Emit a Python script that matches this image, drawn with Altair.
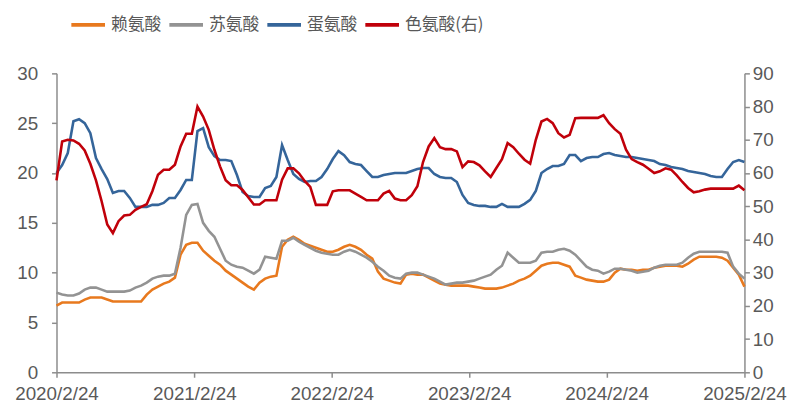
import altair as alt
import pandas as pd

# x: semi-monthly observation dates, 2020/2/24 .. 2025/2/24
dates = pd.date_range("2020-02-24", "2025-02-24", periods=123)

series_names = ["赖氨酸", "苏氨酸", "蛋氨酸", "色氨酸(右)"]
series_colors = ["#E8791E", "#939393", "#35659A", "#C0000A"]

# 赖氨酸 (left axis)
lysine = [
    6.7, 7.0, 7.0, 7.0, 7.0, 7.3, 7.5, 7.5, 7.5, 7.3,
    7.1, 7.1, 7.1, 7.1, 7.1, 7.1, 7.8, 8.3, 8.6, 8.9,
    9.1, 9.5, 11.8, 12.8, 13.0, 13.0, 12.2, 11.7, 11.2, 10.8,
    10.2, 9.8, 9.4, 9.0, 8.6, 8.3, 9.0, 9.4, 9.6, 9.7,
    12.6, 13.3, 13.6, 13.3, 12.9, 12.7, 12.5, 12.3, 12.1, 12.1,
    12.3, 12.6, 12.8, 12.6, 12.3, 11.8, 11.4, 10.1, 9.4, 9.2,
    9.0, 8.9, 9.8, 9.9, 9.8, 9.8, 9.5, 9.2, 8.9, 8.8,
    8.7, 8.7, 8.7, 8.7, 8.6, 8.5, 8.4, 8.4, 8.4, 8.5,
    8.7, 8.9, 9.2, 9.4, 9.7, 10.2, 10.7, 10.9, 11.0, 11.0,
    10.8, 10.6, 9.7, 9.5, 9.3, 9.2, 9.1, 9.1, 9.3, 10.0,
    10.4, 10.3, 10.3, 10.2, 10.3, 10.3, 10.5, 10.6, 10.7, 10.7,
    10.7, 10.6, 10.9, 11.3, 11.6, 11.6, 11.6, 11.6, 11.5, 11.2,
    10.5, 9.8, 8.6,
]

# 苏氨酸 (left axis)
threonine = [
    8.0, 7.8, 7.7, 7.7, 7.9, 8.3, 8.5, 8.5, 8.3, 8.1,
    8.1, 8.1, 8.1, 8.2, 8.5, 8.7, 9.0, 9.4, 9.6, 9.7,
    9.7, 9.9, 12.5, 15.8, 16.8, 16.9, 15.0, 14.2, 13.6, 12.4,
    11.2, 10.8, 10.6, 10.5, 10.2, 9.9, 10.3, 11.6, 11.5, 11.4,
    13.2, 13.2, 13.5, 13.1, 12.8, 12.5, 12.2, 12.0, 11.9, 11.8,
    11.8, 12.1, 12.3, 12.1, 11.8, 11.5, 11.1, 10.6, 10.2, 9.7,
    9.5, 9.4, 9.9, 10.0, 10.0, 9.8, 9.6, 9.4, 9.1, 8.8,
    8.9, 9.0, 9.0, 9.1, 9.2, 9.4, 9.6, 9.8, 10.3, 10.7,
    12.0, 11.5, 11.0, 11.0, 11.0, 11.2, 12.0, 12.1, 12.1, 12.3,
    12.4, 12.2, 11.8, 11.2, 10.6, 10.3, 10.2, 9.9, 10.1, 10.4,
    10.4, 10.3, 10.2, 10.0, 10.1, 10.2, 10.5, 10.7, 10.8, 10.8,
    10.8, 11.0, 11.5, 11.9, 12.1, 12.1, 12.1, 12.1, 12.1, 12.0,
    10.6, 9.9, 9.4,
]

# 蛋氨酸 (left axis)
methionine = [
    20.0, 20.8, 22.0, 25.2, 25.4, 25.0, 24.0, 21.5, 20.4, 19.4,
    18.0, 18.2, 18.2, 17.5, 16.6, 16.6, 16.6, 16.8, 16.8, 17.0,
    17.5, 17.5, 18.3, 19.3, 19.3, 24.2, 24.5, 22.6, 21.7, 21.3,
    21.3, 21.2, 19.8, 18.1, 17.7, 17.6, 17.6, 18.5, 18.7, 19.6,
    22.8, 21.3, 19.9, 19.4, 19.1, 19.2, 19.2, 19.6, 20.4, 21.4,
    22.2, 21.8, 21.1, 20.9, 20.8, 20.2, 19.6, 19.6, 19.8, 19.9,
    20.0, 20.0, 20.0, 20.2, 20.4, 20.5, 20.5, 19.9, 19.6, 19.5,
    19.5, 19.1, 17.8, 17.0, 16.8, 16.7, 16.7, 16.6, 16.6, 16.9,
    16.6, 16.6, 16.6, 16.9, 17.3, 18.2, 20.0, 20.4, 20.7, 20.7,
    20.9, 21.8, 21.8, 21.2, 21.5, 21.6, 21.6, 21.9, 22.0, 21.8,
    21.7, 21.6, 21.6, 21.5, 21.4, 21.3, 21.2, 20.9, 20.8, 20.6,
    20.5, 20.4, 20.2, 20.1, 20.0, 19.9, 19.7, 19.6, 19.6, 20.4,
    21.1, 21.3, 21.1,
]

# 色氨酸 (right axis)
tryptophan = [
    57.8, 69.5, 70.0, 69.8, 68.8, 66.8, 62.8, 57.8, 51.5, 44.5,
    41.9, 45.5, 47.2, 47.4, 48.9, 49.8, 50.6, 54.5, 59.5, 61.0,
    61.0, 62.5, 68.0, 71.8, 71.8, 80.0, 77.0, 73.0, 67.0, 62.0,
    57.8, 56.3, 56.3, 54.9, 52.7, 50.5, 50.5, 51.8, 51.8, 51.8,
    58.0, 61.4, 61.4, 59.9, 57.6, 55.8, 50.4, 50.4, 50.4, 54.5,
    54.8, 54.8, 54.8, 53.8, 52.8, 51.8, 51.8, 51.8, 53.8, 54.6,
    52.3, 51.8, 51.8, 53.3, 56.0, 63.3, 68.0, 70.5, 67.8, 67.2,
    67.2, 66.5, 61.8, 63.5, 63.3, 62.3, 60.5, 58.8, 61.5, 64.2,
    69.0, 67.8, 65.8, 64.0, 62.8, 70.0, 75.5, 76.3, 75.0, 72.0,
    70.7, 71.5, 76.5, 76.6, 76.6, 76.6, 76.6, 77.4, 75.0, 73.2,
    71.8, 67.0, 64.2, 63.3, 62.5, 61.3, 60.0, 60.5, 61.4, 61.0,
    59.3, 57.3, 55.5, 54.2, 54.5, 55.0, 55.3, 55.3, 55.3, 55.3,
    55.3, 56.2, 54.8,
]

left_ticks = [0, 5, 10, 15, 20, 25, 30]
right_ticks = [0, 10, 20, 30, 40, 50, 60, 70, 80, 90]
x_tick_dates = [alt.DateTime(year=y, month=2, date=24) for y in range(2020, 2026)]

rows = []
for name, vals, side in [
    (series_names[0], lysine, "left"),
    (series_names[1], threonine, "left"),
    (series_names[2], methionine, "left"),
    (series_names[3], tryptophan, "right"),
]:
    for d, v in zip(dates, vals):
        rows.append({"date": d, "value": v, "series": name, "side": side})
df = pd.DataFrame(rows)

axis_common = dict(
    labelFont="Liberation Sans",
    labelFontSize=19,
    labelColor="#595959",
    domainColor="#8C8C8C",
    domainWidth=1.5,
    tickColor="#8C8C8C",
    tickWidth=1.5,
    tickSize=5,
    grid=False,
    title=None,
)

x_enc = alt.X(
    "date:T",
    scale=alt.Scale(
        domain=[x_tick_dates[0], x_tick_dates[-1]], nice=False, padding=0
    ),
    axis=alt.Axis(
        values=x_tick_dates,
        format="%Y/%-m/%-d",
        labelFlush=False,
        labelOverlap=False,
        labelPadding=7,
        **axis_common,
    ),
)

color_enc = alt.Color(
    "series:N",
    scale=alt.Scale(domain=series_names, range=series_colors),
    legend=alt.Legend(
        title=None,
        orient="none",
        legendX=13,
        legendY=-68,
        direction="horizontal",
        symbolType="stroke",
        symbolSize=1156,
        symbolStrokeWidth=4,
        labelFont="Noto Sans CJK SC",
        labelFontSize=17,
        labelColor="#595959",
        labelOffset=4,
        columnPadding=0,
    ),
)

left = (
    alt.Chart(df)
    .transform_filter(alt.datum.side == "left")
    .mark_line(strokeWidth=2.6)
    .encode(
        x=x_enc,
        y=alt.Y(
            "value:Q",
            scale=alt.Scale(domain=[0, 30], nice=False),
            axis=alt.Axis(values=left_ticks, orient="left", labelPadding=14, **axis_common),
        ),
        color=color_enc,
    )
)

right = (
    alt.Chart(df)
    .transform_filter(alt.datum.side == "right")
    .mark_line(strokeWidth=2.6)
    .encode(
        x=x_enc,
        y=alt.Y(
            "value:Q",
            scale=alt.Scale(domain=[0, 90], nice=False),
            axis=alt.Axis(values=right_ticks, orient="right", labelPadding=3, **axis_common),
        ),
        color=color_enc,
    )
)

chart = (
    alt.layer(left, right)
    .resolve_scale(y="independent")
    .properties(
        width=695,
        height=302,
        padding={"left": 49, "top": 64, "right": 44, "bottom": 32},
        autosize=alt.AutoSizeParams(type="none"),
        background="white",
    )
    .configure_view(stroke=None)
)

chart.save("out.html", embed_options={"renderer": "svg", "actions": False})
